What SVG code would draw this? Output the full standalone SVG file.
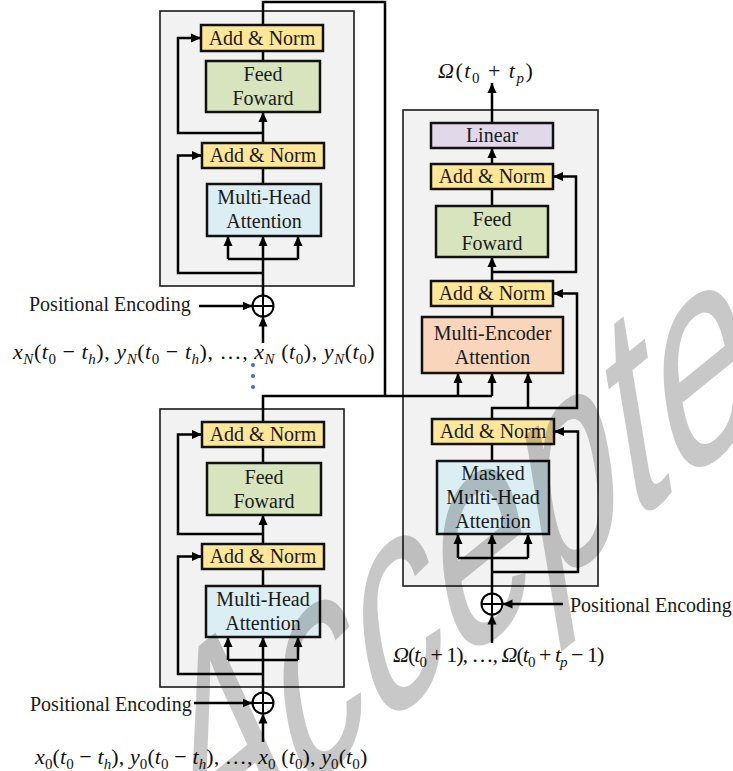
<svg xmlns="http://www.w3.org/2000/svg" width="733" height="771" viewBox="0 0 733 771">
  <style>
    .frame { fill: #f2f2f2; stroke: #1a1a1a; stroke-width: 1.6; }
    .box { stroke: #111; stroke-width: 2.5; }
    .an { fill: #ffe699; }
    .ff { fill: #d7e4bd; }
    .mha { fill: #dbeef4; }
    .mea { fill: #f9d5bb; }
    .lin { fill: #e1d9ea; }
    .lbl { font-family: "Liberation Serif", "Times New Roman", serif; font-size: 20px; fill: #1a1a1a; text-anchor: middle; }
    .side { font-family: "Liberation Serif", "Times New Roman", serif; font-size: 20px; fill: #1a1a1a; }
    .math { font-family: "Liberation Serif", "Times New Roman", serif; font-size: 22px; fill: #111; }
    .i { font-style: italic; }
    .s { font-size: 15px; }
    .wire { fill: none; stroke: #000; stroke-width: 2.5; }
    .arr { marker-end: url(#ah); }
    .sum { fill: #fff; stroke: #000; stroke-width: 2; }
    .wm { font-family: "Liberation Sans", Arial, sans-serif; font-size: 100px; fill: #000; fill-opacity: 0.215; }
  </style>
  <defs>
    <marker id="ah" viewBox="0 0 10 10" refX="10" refY="5" markerWidth="10" markerHeight="10" markerUnits="userSpaceOnUse" orient="auto">
      <path d="M0,0.5 L10,5 L0,9.5 z" fill="#000"/>
    </marker>
  </defs>

  <!-- stack frames -->
  <g id="frames">
    <rect class="frame" x="160" y="11" width="194" height="275"/>
    <rect class="frame" x="160" y="409" width="184" height="278"/>
    <rect class="frame" x="403" y="110" width="195" height="476"/>
  </g>

  <!-- connectors -->
  <g id="connectors">
    <!-- encoder N -->
    <path class="wire arr" d="M263,295.5 V236"/>
    <path class="wire" d="M228,259 H298"/>
    <path class="wire arr" d="M228,259 V236"/>
    <path class="wire arr" d="M298,259 V236"/>
    <path class="wire arr" d="M263,273 H178 V155.5 H202"/>
    <path class="wire" d="M263,184 V168"/>
    <path class="wire arr" d="M263,143 V112"/>
    <path class="wire arr" d="M263,133 H178 V38 H201"/>
    <path class="wire" d="M263,61 V51"/>
    <path class="wire" d="M263,25 V2 H385 V396"/>
    <path class="wire arr" d="M199,306 H252.5"/>
    <path class="wire arr" d="M263,343 V316.5"/>

    <!-- encoder 0 -->
    <path class="wire arr" d="M263,692.5 V637"/>
    <path class="wire" d="M228,660 H298"/>
    <path class="wire arr" d="M228,660 V637"/>
    <path class="wire arr" d="M298,660 V637"/>
    <path class="wire arr" d="M263,674 H178 V556.5 H202"/>
    <path class="wire" d="M263,586 V569"/>
    <path class="wire arr" d="M263,544 V515"/>
    <path class="wire arr" d="M263,534 H178 V434.5 H202"/>
    <path class="wire" d="M263,463 V447"/>
    <path class="wire" d="M263,422 V396 H492"/>
    <path class="wire arr" d="M194,703 H252.5"/>
    <path class="wire arr" d="M263,742 V713.5"/>

    <!-- encoder memory into decoder -->
    <path class="wire arr" d="M458,396 V373"/>
    <path class="wire arr" d="M492,396 V373"/>

    <!-- decoder -->
    <path class="wire arr" d="M492,593.5 V534"/>
    <path class="wire" d="M458,558 H528"/>
    <path class="wire arr" d="M458,558 V534"/>
    <path class="wire arr" d="M528,558 V534"/>
    <path class="wire arr" d="M492,572 H578 V431.5 H554"/>
    <path class="wire" d="M492,461 V444"/>
    <path class="wire arr" d="M492,419 V408 H577 V293.5 H553"/>
    <path class="wire arr" d="M528,408 V373"/>
    <path class="wire" d="M492,317 V306"/>
    <path class="wire arr" d="M492,281 V257"/>
    <path class="wire arr" d="M492,272 H576 V176.5 H553"/>
    <path class="wire" d="M492,206 V189"/>
    <path class="wire arr" d="M492,164 V148"/>
    <path class="wire arr" d="M492,123 V83"/>
    <path class="wire arr" d="M563,604 H502.5"/>
    <path class="wire arr" d="M492,643 V614.5"/>
  </g>

  <!-- encoder N stack -->
  <g id="encN-addnorm2">
    <rect class="box an" x="201" y="25" width="122" height="26"/>
    <text class="lbl" x="262" y="44.5">Add &amp; Norm</text>
  </g>
  <g id="encN-feedforward">
    <rect class="box ff" x="206" y="61" width="114" height="51"/>
    <text class="lbl" x="263" y="81">Feed</text>
    <text class="lbl" x="263" y="105">Foward</text>
  </g>
  <g id="encN-addnorm1">
    <rect class="box an" x="202" y="143" width="122" height="25"/>
    <text class="lbl" x="263" y="161.5">Add &amp; Norm</text>
  </g>
  <g id="encN-attention">
    <rect class="box mha" x="207" y="184" width="114" height="52"/>
    <text class="lbl" x="264" y="204">Multi-Head</text>
    <text class="lbl" x="264" y="228">Attention</text>
  </g>
  <g id="encN-sum">
    <circle class="sum" cx="263" cy="306" r="10.5"/>
    <path d="M252.5,306 H273.5 M263,295.5 V316.5" stroke="#000" stroke-width="2"/>
    <text class="side" x="29" y="311">Positional Encoding</text>
  </g>
  <g id="encN-input">
    <text class="math" x="13" y="359" letter-spacing="0.55"><tspan class="i">x</tspan><tspan class="s i" dy="5">N</tspan><tspan dy="-5">(</tspan><tspan class="i">t</tspan><tspan class="s" dy="5">0</tspan><tspan dy="-5"> − </tspan><tspan class="i">t</tspan><tspan class="s i" dy="5">h</tspan><tspan dy="-5">), </tspan><tspan class="i">y</tspan><tspan class="s i" dy="5">N</tspan><tspan dy="-5">(</tspan><tspan class="i">t</tspan><tspan class="s" dy="5">0</tspan><tspan dy="-5"> − </tspan><tspan class="i">t</tspan><tspan class="s i" dy="5">h</tspan><tspan dy="-5">), …, </tspan><tspan class="i">x</tspan><tspan class="s i" dy="5">N</tspan><tspan dy="-5"> (</tspan><tspan class="i">t</tspan><tspan class="s" dy="5">0</tspan><tspan dy="-5">), </tspan><tspan class="i">y</tspan><tspan class="s i" dy="5">N</tspan><tspan dy="-5">(</tspan><tspan class="i">t</tspan><tspan class="s" dy="5">0</tspan><tspan dy="-5">)</tspan></text>
  </g>
  <g id="ellipsis" fill="#2e75b6">
    <circle cx="253" cy="365" r="2"/>
    <circle cx="253" cy="376" r="2"/>
    <circle cx="253" cy="387" r="2"/>
  </g>

  <!-- encoder 0 stack -->
  <g id="enc0-addnorm2">
    <rect class="box an" x="202" y="422" width="122" height="25"/>
    <text class="lbl" x="263" y="440.5">Add &amp; Norm</text>
  </g>
  <g id="enc0-feedforward">
    <rect class="box ff" x="207" y="463" width="114" height="52"/>
    <text class="lbl" x="264" y="483.5">Feed</text>
    <text class="lbl" x="264" y="507.5">Foward</text>
  </g>
  <g id="enc0-addnorm1">
    <rect class="box an" x="202" y="544" width="122" height="25"/>
    <text class="lbl" x="263" y="562.5">Add &amp; Norm</text>
  </g>
  <g id="enc0-attention">
    <rect class="box mha" x="206" y="586" width="114" height="51"/>
    <text class="lbl" x="263" y="606">Multi-Head</text>
    <text class="lbl" x="263" y="630">Attention</text>
  </g>
  <g id="enc0-sum">
    <circle class="sum" cx="263" cy="703" r="10.5"/>
    <path d="M252.5,703 H273.5 M263,692.5 V713.5" stroke="#000" stroke-width="2"/>
    <text class="side" x="30" y="711">Positional Encoding</text>
  </g>
  <g id="enc0-input">
    <text class="math" x="35" y="764" letter-spacing="0.1"><tspan class="i">x</tspan><tspan class="s" dy="5">0</tspan><tspan dy="-5">(</tspan><tspan class="i">t</tspan><tspan class="s" dy="5">0</tspan><tspan dy="-5"> − </tspan><tspan class="i">t</tspan><tspan class="s i" dy="5">h</tspan><tspan dy="-5">), </tspan><tspan class="i">y</tspan><tspan class="s" dy="5">0</tspan><tspan dy="-5">(</tspan><tspan class="i">t</tspan><tspan class="s" dy="5">0</tspan><tspan dy="-5"> − </tspan><tspan class="i">t</tspan><tspan class="s i" dy="5">h</tspan><tspan dy="-5">), …, </tspan><tspan class="i">x</tspan><tspan class="s" dy="5">0</tspan><tspan dy="-5"> (</tspan><tspan class="i">t</tspan><tspan class="s" dy="5">0</tspan><tspan dy="-5">), </tspan><tspan class="i">y</tspan><tspan class="s" dy="5">0</tspan><tspan dy="-5">(</tspan><tspan class="i">t</tspan><tspan class="s" dy="5">0</tspan><tspan dy="-5">)</tspan></text>
  </g>

  <!-- decoder stack -->
  <g id="dec-linear">
    <rect class="box lin" x="431" y="123" width="122" height="25"/>
    <text class="lbl" x="492" y="141.5">Linear</text>
  </g>
  <g id="dec-addnorm3">
    <rect class="box an" x="431" y="164" width="122" height="25"/>
    <text class="lbl" x="492" y="182.5">Add &amp; Norm</text>
  </g>
  <g id="dec-feedforward">
    <rect class="box ff" x="436" y="206" width="112" height="51"/>
    <text class="lbl" x="492" y="226">Feed</text>
    <text class="lbl" x="492" y="250">Foward</text>
  </g>
  <g id="dec-addnorm2">
    <rect class="box an" x="431" y="281" width="122" height="25"/>
    <text class="lbl" x="492" y="299.5">Add &amp; Norm</text>
  </g>
  <g id="dec-cross-attention">
    <rect class="box mea" x="422" y="317" width="141" height="56"/>
    <text class="lbl" x="492.5" y="339.5">Multi-Encoder</text>
    <text class="lbl" x="492.5" y="363.5">Attention</text>
  </g>
  <g id="dec-addnorm1">
    <rect class="box an" x="432" y="419" width="122" height="25"/>
    <text class="lbl" x="493" y="437.5">Add &amp; Norm</text>
  </g>
  <g id="dec-masked-attention">
    <rect class="box mha" x="437" y="461" width="112" height="73"/>
    <text class="lbl" x="493" y="480">Masked</text>
    <text class="lbl" x="493" y="504">Multi-Head</text>
    <text class="lbl" x="493" y="528">Attention</text>
  </g>
  <g id="dec-sum">
    <circle class="sum" cx="492" cy="604" r="10.5"/>
    <path d="M481.5,604 H502.5 M492,593.5 V614.5" stroke="#000" stroke-width="2"/>
    <text class="side" x="570" y="612">Positional Encoding</text>
  </g>
  <g id="dec-input">
    <text class="math" x="393" y="662" font-size="19" letter-spacing="-1"><tspan class="i">Ω</tspan><tspan>(</tspan><tspan class="i">t</tspan><tspan class="s" dy="5">0</tspan><tspan dy="-5"> + 1), …, </tspan><tspan class="i">Ω</tspan><tspan>(</tspan><tspan class="i">t</tspan><tspan class="s" dy="5">0</tspan><tspan dy="-5"> + </tspan><tspan class="i">t</tspan><tspan class="s i" dy="5">p</tspan><tspan dy="-5"> − 1)</tspan></text>
  </g>
  <g id="dec-output">
    <text class="math" x="438" y="78" font-size="20" letter-spacing="1.5"><tspan class="i">Ω</tspan><tspan>(</tspan><tspan class="i">t</tspan><tspan class="s" dy="5">0</tspan><tspan dy="-5"> + </tspan><tspan class="i">t</tspan><tspan class="s i" dy="5">p</tspan><tspan dy="-5">)</tspan></text>
  </g>

  <!-- "Accepted" stamp, slanted across the page -->
  <g id="stamp">
    <text class="wm" transform="matrix(1.59,-1.285,0.486,2.943,187,885)">Accepted</text>
  </g>
</svg>
